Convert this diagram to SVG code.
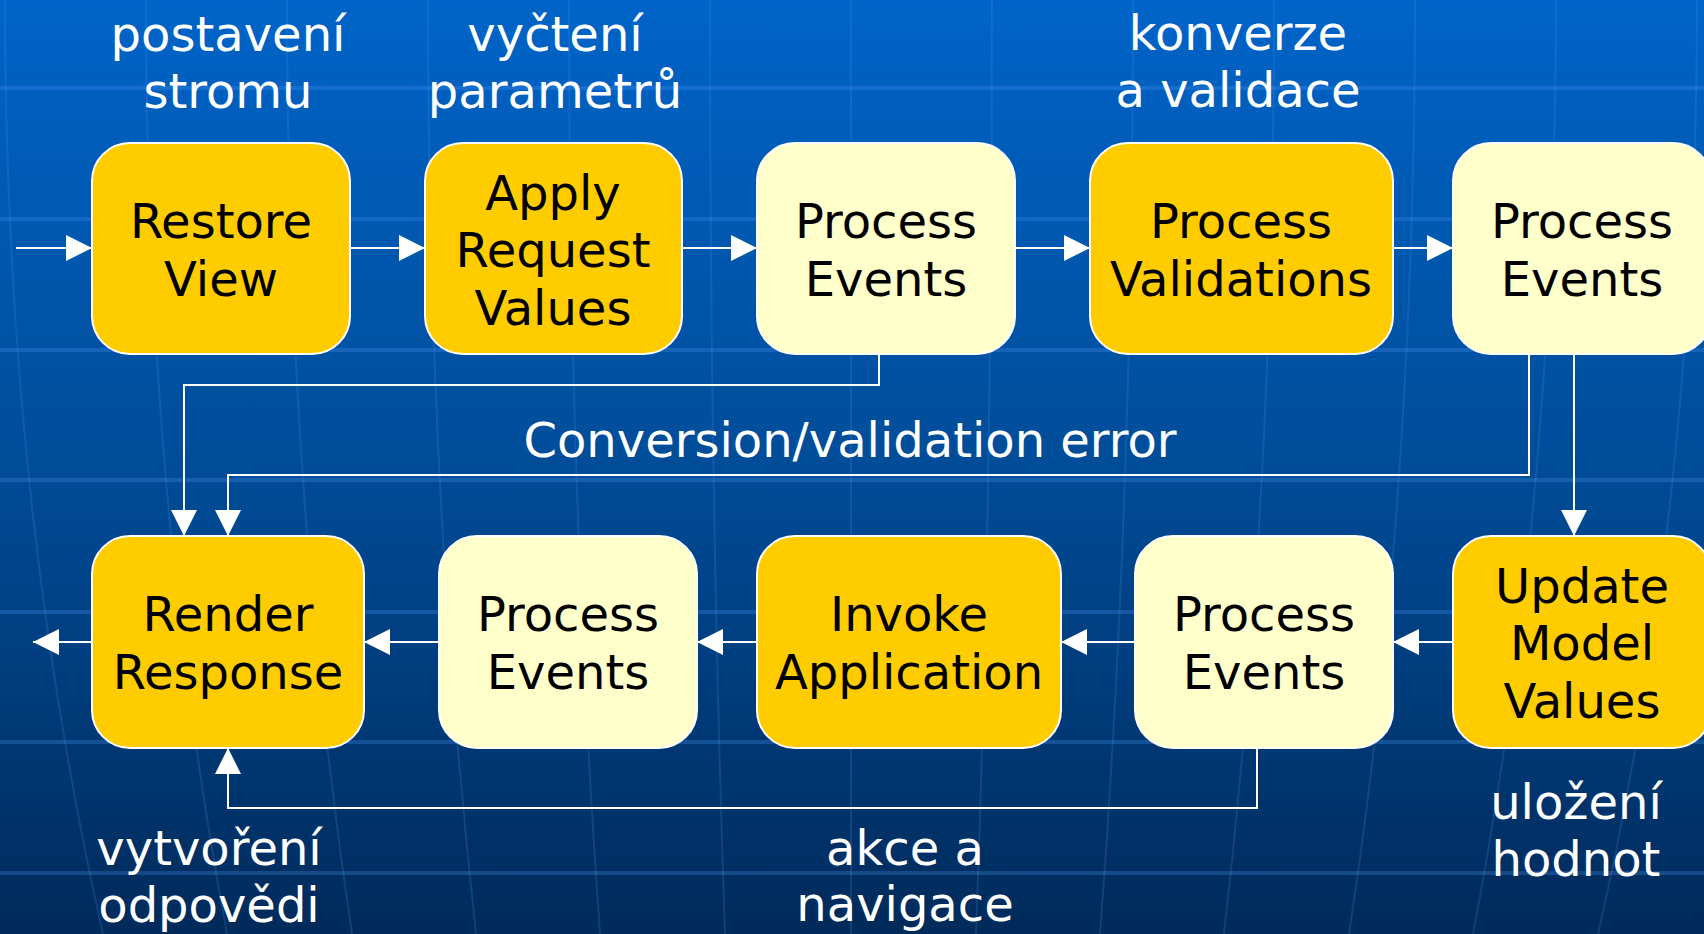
<svg xmlns="http://www.w3.org/2000/svg" width="1704" height="934" viewBox="0 0 1704 934">
<defs>
<linearGradient id="bg" x1="0" y1="0" x2="0" y2="1">
<stop offset="0" stop-color="#0064C8"/>
<stop offset="0.5" stop-color="#004C98"/>
<stop offset="1" stop-color="#002A5A"/>
</linearGradient>
<marker id="ah" markerUnits="userSpaceOnUse" markerWidth="26" markerHeight="26" refX="26" refY="13" orient="auto">
<path d="M0,0 L26,13 L0,26 z" fill="#FFFFFF"/>
</marker>
<style>
.box{stroke:#FFFFFF;stroke-width:2}
.gold{fill:#FFCC00}
.pale{fill:#FFFFCC}
.t{font-family:"DejaVu Sans",Verdana,sans-serif;font-size:48px;text-anchor:middle;fill:#000000}
.w{font-family:"DejaVu Sans",Verdana,sans-serif;font-size:48px;text-anchor:middle;fill:#FFFFFF}
.c{fill:none;stroke:#FFFFFF;stroke-width:2}
.grid{fill:none;stroke:#4A94F0;stroke-opacity:0.28;stroke-width:4}
.mer{fill:none;stroke:#4A94F0;stroke-opacity:0.2;stroke-width:2}
</style>
</defs>
<rect x="0" y="0" width="1704" height="934" fill="url(#bg)"/>
<g id="background-grid">
<path class="grid" d="M0 88H1704M0 219H1704M0 350H1704M0 480H1704M0 612H1704M0 742H1704M0 873H1704"/>
<path class="mer" d="M5 0Q5 500 103 934M146 0Q146 500 227 934M287 0Q287 500 352 934M428 0Q428 500 476 934M569 0Q569 500 600 934M710 0Q710 500 725 934M851 0Q851 500 851 934M992 0Q992 500 976 934M1133 0Q1133 500 1100 934M1274 0Q1274 500 1224 934M1415 0Q1415 500 1349 934M1556 0Q1556 500 1473 934M1697 0Q1697 500 1598 934"/>
</g>
<g id="labels">
<text class="w" x="228" y="51">postavení</text>
<text class="w" x="228" y="108">stromu</text>
<text class="w" x="555" y="51">vyčtení</text>
<text class="w" x="555" y="108">parametrů</text>
<text class="w" x="1238" y="50">konverze</text>
<text class="w" x="1238" y="107">a validace</text>
<text class="w" x="850" y="457">Conversion/validation error</text>
<text class="w" x="209" y="865">vytvoření</text>
<text class="w" x="209" y="922">odpovědi</text>
<text class="w" x="905" y="865">akce a</text>
<text class="w" x="905" y="921">navigace</text>
<text class="w" x="1576" y="819">uložení</text>
<text class="w" x="1576" y="876">hodnot</text>
</g>
<g id="connectors">
<path class="c" marker-end="url(#ah)" d="M16 248H92"/>
<path class="c" marker-end="url(#ah)" d="M350 248H425"/>
<path class="c" marker-end="url(#ah)" d="M682 248H757"/>
<path class="c" marker-end="url(#ah)" d="M1015 248H1090"/>
<path class="c" marker-end="url(#ah)" d="M1393 248H1453"/>
<path class="c" marker-end="url(#ah)" d="M1453 642H1393"/>
<path class="c" marker-end="url(#ah)" d="M1135 642H1061"/>
<path class="c" marker-end="url(#ah)" d="M757 642H697"/>
<path class="c" marker-end="url(#ah)" d="M439 642H364"/>
<path class="c" marker-end="url(#ah)" d="M92 642H33"/>
<path class="c" marker-end="url(#ah)" d="M879 354V385H184V536"/>
<path class="c" marker-end="url(#ah)" d="M1529 354V475H228V536"/>
<path class="c" marker-end="url(#ah)" d="M1574 354V536"/>
<path class="c" marker-end="url(#ah)" d="M1257 748V808H228V748"/>
</g>
<g id="restore-view">
<rect class="box gold" x="92" y="143" width="258" height="211" rx="38"/>
<text class="t" x="221" y="238">Restore</text>
<text class="t" x="221" y="296">View</text>
</g>
<g id="apply-request-values">
<rect class="box gold" x="425" y="143" width="257" height="211" rx="38"/>
<text class="t" x="553" y="210">Apply</text>
<text class="t" x="553" y="267">Request</text>
<text class="t" x="553" y="325">Values</text>
</g>
<g id="process-events-1">
<rect class="box pale" x="757" y="143" width="258" height="211" rx="38"/>
<text class="t" x="886" y="238">Process</text>
<text class="t" x="886" y="296">Events</text>
</g>
<g id="process-validations">
<rect class="box gold" x="1090" y="143" width="303" height="211" rx="38"/>
<text class="t" x="1241" y="238">Process</text>
<text class="t" x="1241" y="296">Validations</text>
</g>
<g id="process-events-2">
<rect class="box pale" x="1453" y="143" width="258" height="211" rx="38"/>
<text class="t" x="1582" y="238">Process</text>
<text class="t" x="1582" y="296">Events</text>
</g>
<g id="render-response">
<rect class="box gold" x="92" y="536" width="272" height="212" rx="38"/>
<text class="t" x="228" y="631">Render</text>
<text class="t" x="228" y="689">Response</text>
</g>
<g id="process-events-3">
<rect class="box pale" x="439" y="536" width="258" height="212" rx="38"/>
<text class="t" x="568" y="631">Process</text>
<text class="t" x="568" y="689">Events</text>
</g>
<g id="invoke-application">
<rect class="box gold" x="757" y="536" width="304" height="212" rx="38"/>
<text class="t" x="909" y="631">Invoke</text>
<text class="t" x="909" y="689">Application</text>
</g>
<g id="process-events-4">
<rect class="box pale" x="1135" y="536" width="258" height="212" rx="38"/>
<text class="t" x="1264" y="631">Process</text>
<text class="t" x="1264" y="689">Events</text>
</g>
<g id="update-model-values">
<rect class="box gold" x="1453" y="536" width="258" height="212" rx="38"/>
<text class="t" x="1582" y="603">Update</text>
<text class="t" x="1582" y="660">Model</text>
<text class="t" x="1582" y="718">Values</text>
</g>
</svg>
